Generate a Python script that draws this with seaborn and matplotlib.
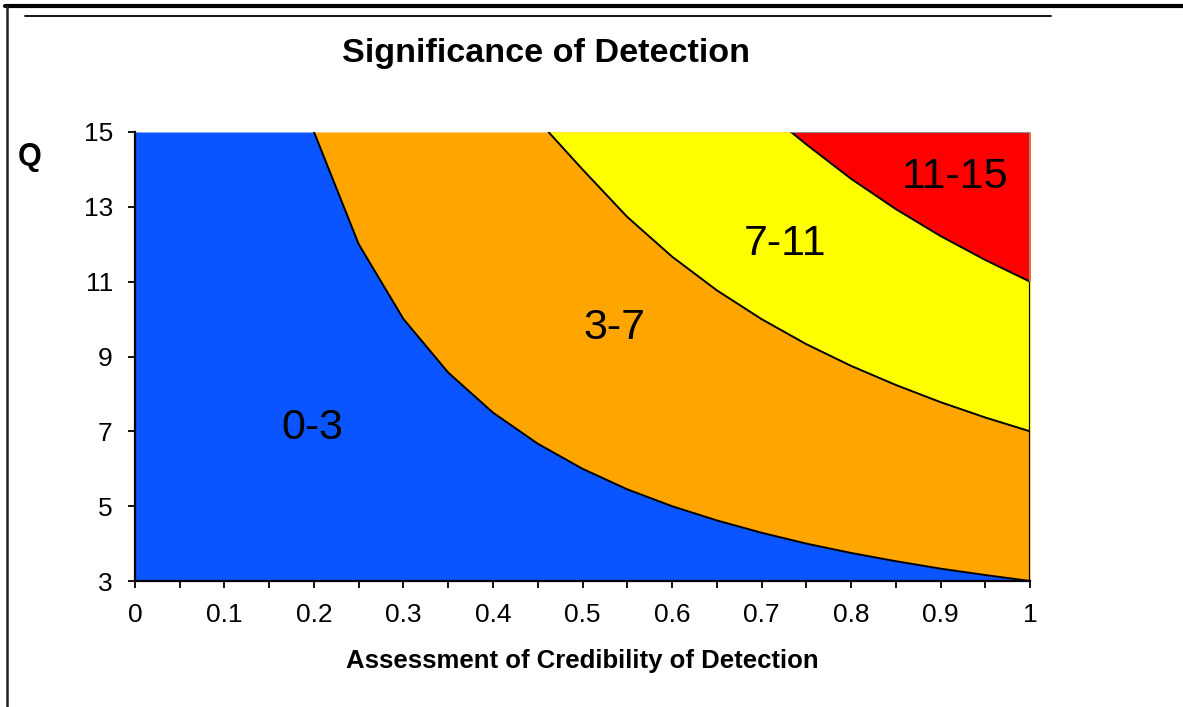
import numpy as np
import seaborn as sns
import matplotlib.pyplot as plt
from matplotlib.lines import Line2D

# Boundary curves (Q where significance hits 3, 7 and 11)
cred_3 = [0.20, 0.25, 0.30, 0.35, 0.40, 0.45, 0.50, 0.55, 0.60, 0.65, 0.70, 0.75, 0.80, 0.85, 0.90, 0.95, 1.00]
q_3 = [15, 12, 10, 8.57, 7.5, 6.67, 6, 5.45, 5, 4.62, 4.29, 4, 3.75, 3.53, 3.33, 3.16, 3]

cred_7 = [0.462, 0.50, 0.55, 0.60, 0.65, 0.70, 0.75, 0.80, 0.85, 0.90, 0.95, 1.00]
q_7 = [15, 14, 12.73, 11.67, 10.77, 10, 9.33, 8.75, 8.24, 7.78, 7.37, 7]

cred_11 = [0.733, 0.75, 0.80, 0.85, 0.90, 0.95, 1.00]
q_11 = [15, 14.67, 13.75, 12.94, 12.22, 11.58, 11]

band_labels = ["0-3", "3-7", "7-11", "11-15"]
band_colors = ["#0A55FF", "#FFA500", "#FFFF00", "#FF0000"]
label_x = [0.198, 0.536, 0.726, 0.916]
label_y = [7.1, 9.75, 12.0, 13.8]

x_ticks = [0, 0.05, 0.1, 0.15, 0.2, 0.25, 0.3, 0.35, 0.4, 0.45, 0.5, 0.55, 0.6, 0.65, 0.7, 0.75, 0.8, 0.85, 0.9, 0.95, 1]
x_tick_labels = ["0", "", "0.1", "", "0.2", "", "0.3", "", "0.4", "", "0.5", "", "0.6", "", "0.7", "", "0.8", "", "0.9", "", "1"]
y_ticks = [3, 5, 7, 9, 11, 13, 15]
q_min, q_max = 3, 15

sns.set_style("ticks")
plt.rcParams['font.family'] = ['Liberation Sans', 'DejaVu Sans']
plt.rcParams['text.color'] = 'black'

fig = plt.figure(figsize=(11.83, 7.07), dpi=100)
ax = fig.add_axes([0.1141, 0.1782, 0.7566, 0.6351])

# bands: blue everywhere below the first curve, then stack the others on top
ax.fill_between([0] + cred_3, q_min, [q_max] + q_3, color=band_colors[0], lw=0)
ax.fill_between(cred_3, q_3, q_max, color=band_colors[1], lw=0)
ax.fill_between(cred_7, q_7, q_max, color=band_colors[2], lw=0)
ax.fill_between(cred_11, q_11, q_max, color=band_colors[3], lw=0)

for xs, qs in [(cred_3, q_3), (cred_7, q_7), (cred_11, q_11)]:
    sns.lineplot(x=xs, y=qs, sort=False, estimator=None, color="black", lw=1.4, ax=ax)

# outline on the right edge below the red band, grey frame around red
ax.vlines(1, q_min, q_11[-1], color="black", lw=1.6, zorder=5)
ax.hlines(q_max, cred_11[0], 1, color="#8c8c8c", lw=1.5, zorder=5)
ax.vlines(1, q_11[-1], q_max, color="#8c8c8c", lw=1.5, zorder=5)

for lab, lx, ly in zip(band_labels, label_x, label_y):
    ax.text(lx, ly, lab, fontsize=31, ha="center", va="center", color="black")

ax.set_xlim(0, 1)
ax.set_ylim(q_min, q_max)
ax.set_xticks(x_ticks)
ax.set_xticklabels(x_tick_labels)
ax.set_yticks(y_ticks)
ax.tick_params(direction="out", length=5, width=1.3, labelsize=19, color="black", labelcolor="black")
ax.tick_params(axis="x", pad=11)
ax.tick_params(axis="y", pad=11)
for side in ["top", "right"]:
    ax.spines[side].set_visible(False)
for side in ["left", "bottom"]:
    ax.spines[side].set_color("black")
    ax.spines[side].set_linewidth(1.6)

fig.text(0.4616, 0.925, "Significance of Detection", fontsize=24.6, fontweight="bold", ha="center", va="center")
fig.text(0.4924, 0.065, "Assessment of Credibility of Detection", fontsize=18.5, fontweight="bold", ha="center", va="center")
fig.text(0.0254, 0.778, "Q", fontsize=22, fontweight="bold", ha="center", va="center")

# outer frame lines
fig.add_artist(Line2D([0.004, 1], [0.9915, 0.9915], color="black", lw=3))
fig.add_artist(Line2D([0.0055, 0.0055], [0, 0.9915], color="#222222", lw=1.8))
fig.add_artist(Line2D([0.021, 0.888], [0.977, 0.977], color="black", lw=1.3))

fig.savefig("out.png", dpi=100)
